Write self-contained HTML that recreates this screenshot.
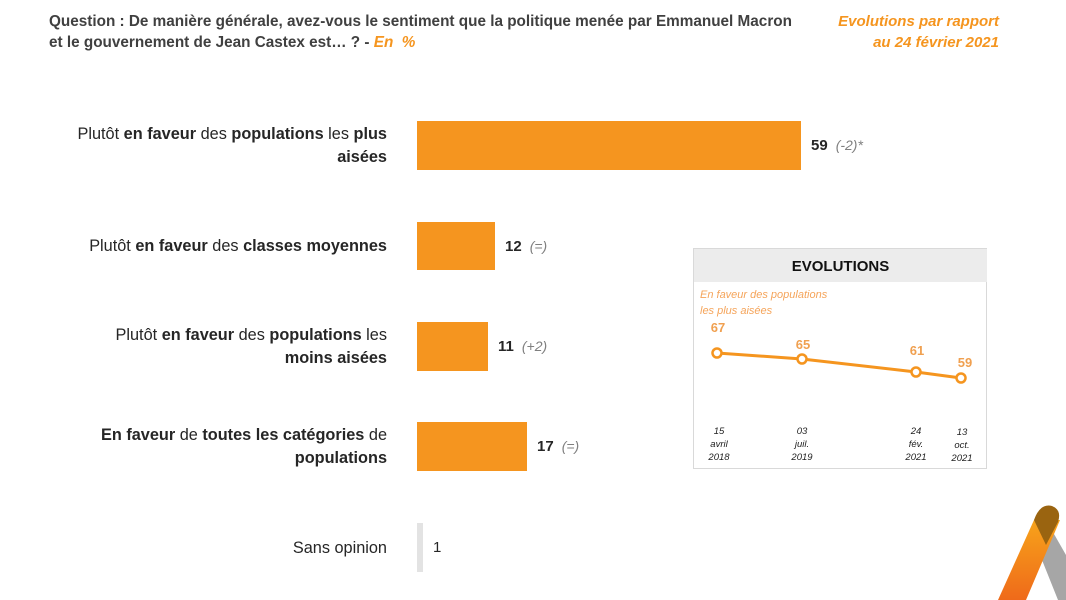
<!DOCTYPE html>
<html><head><meta charset="utf-8"><style>
body{margin:0;width:1066px;height:600px;background:#fff;position:relative;overflow:hidden;font-family:"Liberation Sans",sans-serif;}
.a{position:absolute;}
.q{left:49px;top:11px;font-size:15.3px;font-weight:bold;color:#404040;line-height:21px;}
.o{color:#f5951f;font-style:italic;}
.ev{right:67px;top:11px;text-align:right;font-size:15px;font-weight:bold;font-style:italic;color:#f5951f;line-height:21px;}
.lab{right:679px;text-align:right;font-size:16.3px;color:#262626;line-height:23px;}
.bar{background:#f5951f;left:417px;}
.v{font-size:15px;font-weight:bold;color:#262626;}
.d{font-size:14px;font-style:italic;color:#7f7f7f;margin-left:8px;font-weight:normal;}
</style></head><body>
<div class="a q">Question : De manière générale, avez-vous le sentiment que la politique menée par Emmanuel Macron<br>et le gouvernement de Jean Castex est… ? - <span class="o">En&nbsp; %</span></div>
<div class="a ev">Evolutions par rapport<br>au 24 février 2021</div>

<div class="a lab" style="top:123px">Plutôt <b>en faveur</b> des <b>populations</b> les <b>plus</b><br><b>aisées</b></div>
<div class="a bar" style="top:121px;width:384px;height:49px"></div>
<div class="a v" style="left:811px;top:137px">59<span class="d">(-2)*</span></div>

<div class="a lab" style="top:235px">Plutôt <b>en faveur</b> des <b>classes moyennes</b></div>
<div class="a bar" style="top:222px;width:78px;height:48px"></div>
<div class="a v" style="left:505px;top:238px">12<span class="d">(=)</span></div>

<div class="a lab" style="top:324px">Plutôt <b>en faveur</b> des <b>populations</b> les<br><b>moins aisées</b></div>
<div class="a bar" style="top:322px;width:71px;height:49px"></div>
<div class="a v" style="left:498px;top:338px">11<span class="d">(+2)</span></div>

<div class="a lab" style="top:424px"><b>En faveur</b> de <b>toutes les catégories</b> de<br><b>populations</b></div>
<div class="a bar" style="top:422px;width:110px;height:49px"></div>
<div class="a v" style="left:537px;top:438px">17<span class="d">(=)</span></div>

<div class="a lab" style="top:537px">Sans opinion</div>
<div class="a" style="left:417px;top:523px;width:6px;height:49px;background:#e3e3e3"></div>
<div class="a v" style="left:433px;top:539px;font-weight:normal;color:#262626">1</div>

<div class="a" style="left:693px;top:248px;width:294px;height:221px;border:1px solid #d9d9d9;box-sizing:border-box"></div>
<div class="a" style="left:694px;top:249px;width:293px;height:33px;background:#ececec;text-align:center;font-weight:bold;font-size:15px;line-height:35px;color:#111">EVOLUTIONS</div>
<div class="a" style="left:700px;top:287px;font-size:11px;font-style:italic;color:#f5a45a;line-height:16px">En faveur des populations<br>les plus aisées</div>
<svg class="a" style="left:0;top:0" width="1066" height="600">
<polyline points="717,353 802,359 916,372 961,378" fill="none" stroke="#f5951f" stroke-width="3"/>
<g fill="#fff" stroke="#f5951f" stroke-width="2.5">
<circle cx="717" cy="353" r="4.5"/><circle cx="802" cy="359" r="4.5"/><circle cx="916" cy="372" r="4.5"/><circle cx="961" cy="378" r="4.5"/></g>
<g fill="#f0a050" font-size="13" font-weight="bold" text-anchor="middle" font-family="Liberation Sans">
<text x="718" y="332">67</text><text x="803" y="349">65</text><text x="917" y="355">61</text><text x="965" y="367">59</text></g>
<g fill="#222" font-size="9.5" font-style="italic" text-anchor="middle" font-family="Liberation Sans">
<text x="719" y="434">15</text><text x="719" y="447">avril</text><text x="719" y="460">2018</text>
<text x="802" y="434">03</text><text x="802" y="447">juil.</text><text x="802" y="460">2019</text>
<text x="916" y="434">24</text><text x="916" y="447">fév.</text><text x="916" y="460">2021</text>
<text x="962" y="435">13</text><text x="962" y="448">oct.</text><text x="962" y="461">2021</text></g>
<defs><linearGradient id="g" x1="0" y1="0" x2="0" y2="1"><stop offset="0" stop-color="#f7a31a"/><stop offset="1" stop-color="#ef6a1a"/></linearGradient></defs>
<polygon points="1046,520 1066,555 1066,600 1058,600 1036,545" fill="#a6a6a6"/>
<polygon points="1034,520 1060,520 1026,600 998,600" fill="url(#g)"/>
<path d="M1034,520 Q1040,503 1052,506 Q1062,510 1058,522 L1046,545 Z" fill="#9a6410"/>
</svg>
</body></html>
